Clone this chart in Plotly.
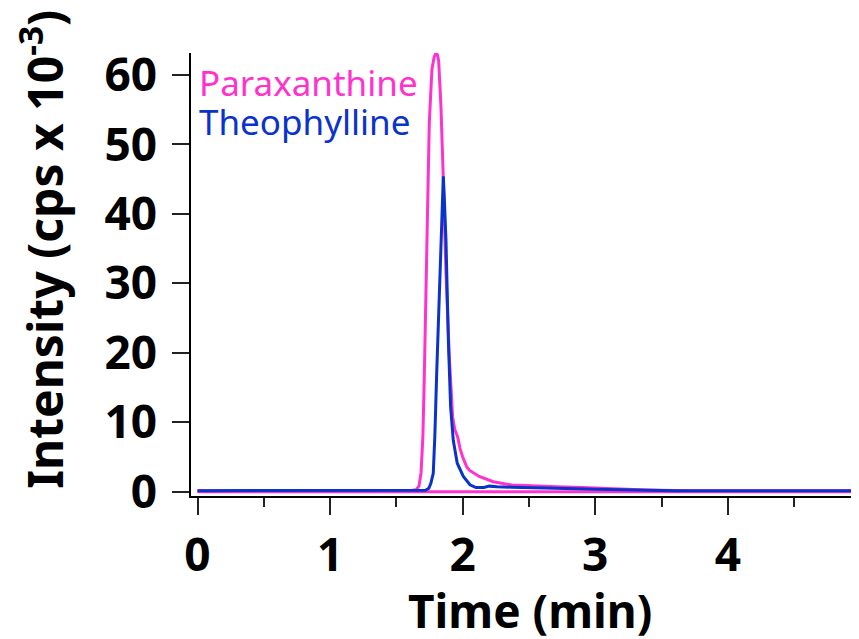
import plotly.graph_objects as go

# Time (min) and intensity (cps x 10^-3)
para_t = [0.0, 0.5, 1.0, 1.5, 1.60, 1.65, 1.67, 1.686, 1.70, 1.711, 1.728, 1.748, 1.768,
          1.785, 1.799, 1.81, 1.819, 1.836, 1.854, 1.874, 1.899, 1.924, 1.94, 1.962, 1.98,
          2.0, 2.03, 2.05, 2.125, 2.23, 2.37, 2.5, 2.71, 2.9, 3.05, 3.2, 3.39, 3.7, 4.2, 4.97]
para_v = [0.15, 0.15, 0.15, 0.15, 0.15, 0.3, 0.8, 2.7, 8.0, 17.0, 36.0, 53.0, 60.8,
          62.6, 63.2, 62.9, 62.0, 55.5, 45.0, 31.5, 19.5, 10.8, 9.0, 7.9, 6.2,
          5.0, 3.6, 3.1, 2.2, 1.44, 0.97, 0.85, 0.72, 0.6, 0.5, 0.35, 0.25, 0.15, 0.15, 0.15]

theo_t = [0.0, 0.5, 1.0, 1.5, 1.72, 1.745, 1.76, 1.778, 1.79, 1.804, 1.816, 1.829, 1.841,
          1.854, 1.862, 1.874, 1.892, 1.909, 1.929, 1.959, 2.005, 2.055, 2.1, 2.13, 2.16,
          2.2, 2.26, 2.37, 2.5, 2.7, 3.0, 3.3, 3.6, 4.2, 4.97]
theo_v = [0.15, 0.15, 0.15, 0.15, 0.2, 0.5, 1.2, 2.65, 8.0, 17.0, 24.0, 31.4, 41.0,
          45.4, 42.0, 36.2, 21.8, 12.2, 7.4, 4.1, 2.2, 1.0, 0.6, 0.55, 0.6,
          0.8, 0.7, 0.65, 0.55, 0.5, 0.35, 0.25, 0.15, 0.15, 0.15]

zero_t = [0.0, 4.97]
zero_v = [0.0, 0.0]

x_ticks = [0, 1, 2, 3, 4]
y_ticks = [0, 10, 20, 30, 40, 50, 60]

PINK = "#FF33CC"
BLUE = "#0A33CC"
FONT = "Noto Sans"

fig = go.Figure()
fig.add_trace(go.Scatter(x=zero_t, y=zero_v, mode="lines",
                         line=dict(color=PINK, width=3), showlegend=False, hoverinfo="skip"))
fig.add_trace(go.Scatter(x=para_t, y=para_v, mode="lines", name="Paraxanthine",
                         line=dict(color=PINK, width=3), showlegend=False))
fig.add_trace(go.Scatter(x=theo_t, y=theo_v, mode="lines", name="Theophylline",
                         line=dict(color=BLUE, width=3), showlegend=False))

tickfont = dict(family=FONT, size=46, color="black", weight="bold")

fig.update_layout(
    width=851, height=631,
    margin=dict(l=183, r=0, t=45, b=143),
    paper_bgcolor="white", plot_bgcolor="white",
    xaxis=dict(range=[-0.049, 4.989], tickvals=x_ticks, ticks="outside", ticklen=17,
               tickwidth=1.5, tickcolor="#222", showline=True, linecolor="black",
               linewidth=1.5, showgrid=False, zeroline=False, tickfont=tickfont,
               ticklabelstandoff=1,
               minor=dict(dtick=0.5, tick0=0, ticks="outside", ticklen=9, tickwidth=1.5,
                          tickcolor="#222", showgrid=False)),
    yaxis=dict(range=[-0.62, 63.17], tickvals=y_ticks, ticks="outside", ticklen=17,
               tickwidth=1.5, tickcolor="#222", showline=True, linecolor="black",
               linewidth=1.5, showgrid=False, zeroline=False, tickfont=tickfont,
               ticklabelstandoff=6),
    annotations=[
        dict(text="Paraxanthine", xref="paper", yref="paper", x=0.009, y=0.934,
             xanchor="left", yanchor="middle", showarrow=False,
             font=dict(family=FONT, size=35, color=PINK)),
        dict(text="Theophylline", xref="paper", yref="paper", x=0.009, y=0.845,
             xanchor="left", yanchor="middle", showarrow=False,
             font=dict(family=FONT, size=35, color=BLUE)),
        dict(text="Time (min)", xref="paper", yref="paper", x=0.508, y=-0.258,
             xanchor="center", yanchor="middle", showarrow=False,
             font=dict(family=FONT, size=46, color="black", weight="bold")),
        dict(text="Intensity (cps x 10<sup>-3</sup>)", xref="paper", yref="paper",
             x=(42 - 191) / 668, y=0.556, textangle=-90,
             xanchor="center", yanchor="middle", showarrow=False,
             font=dict(family=FONT, size=48, color="black", weight="bold")),
    ],
)

fig.write_html("out.html")
